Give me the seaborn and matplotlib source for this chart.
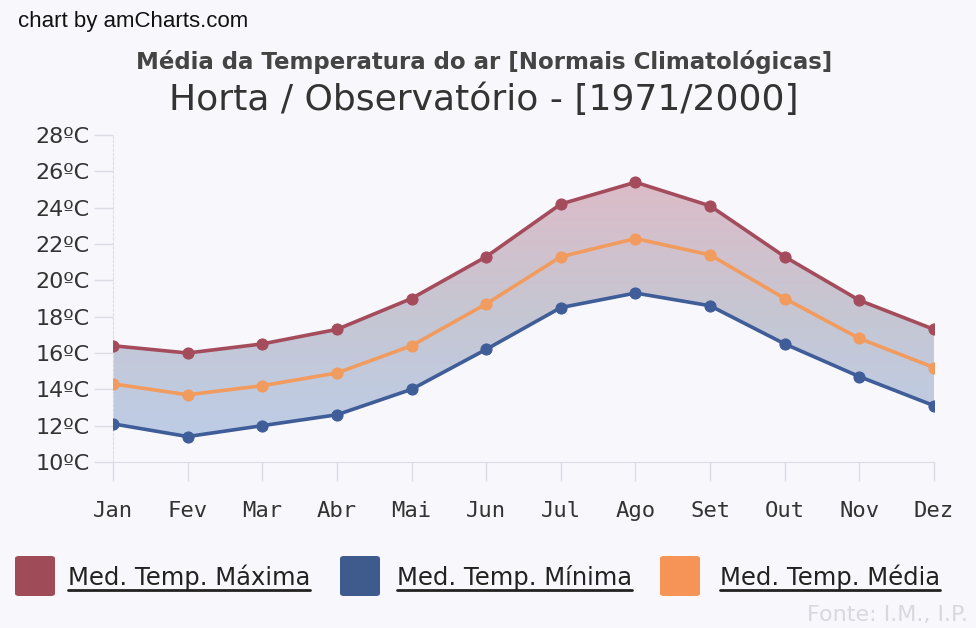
import numpy as np
import pandas as pd
import matplotlib
matplotlib.use("Agg")
import matplotlib.pyplot as plt
import seaborn as sns
from matplotlib.patches import FancyBboxPatch
from matplotlib.lines import Line2D
from matplotlib.colors import LinearSegmentedColormap

months = ["Jan", "Fev", "Mar", "Abr", "Mai", "Jun", "Jul", "Ago", "Set", "Out", "Nov", "Dez"]
temp_max = [16.4, 16.0, 16.5, 17.3, 19.0, 21.3, 24.2, 25.4, 24.1, 21.3, 18.9, 17.3]
temp_min = [12.1, 11.4, 12.0, 12.6, 14.0, 16.2, 18.5, 19.3, 18.6, 16.5, 14.7, 13.1]
temp_med = [14.3, 13.7, 14.2, 14.9, 16.4, 18.7, 21.3, 22.3, 21.4, 19.0, 16.8, 15.2]
series_names = ["Med. Temp. Máxima", "Med. Temp. Mínima", "Med. Temp. Média"]
y_ticks = [10, 12, 14, 16, 18, 20, 22, 24, 26, 28]

line_colors = {"Med. Temp. Máxima": "#a44c5c", "Med. Temp. Mínima": "#3f5d98", "Med. Temp. Média": "#f29b5e"}
legend_colors = ["#a04c58", "#3f5a8c", "#f69357"]

bg = "#f8f7fc"
sns.set_style("white")
plt.rcParams["font.family"] = ["DejaVu Sans"]

fig = plt.figure(figsize=(9.76, 6.28), dpi=100, facecolor=bg)
ax = fig.add_axes([113 / 976, 1 - 462 / 628, (934 - 113) / 976, (462 - 135) / 628])
ax.set_facecolor(bg)

x = np.arange(len(months))
df = pd.DataFrame({
    "idx": np.tile(x, 3),
    "value": temp_max + temp_min + temp_med,
    "series": np.repeat(series_names, len(months)),
})

# gradient fill between max and min
poly = ax.fill_between(x, temp_min, temp_max, facecolor="none", edgecolor="none")
path = poly.get_paths()[0]
cmap = LinearSegmentedColormap.from_list("g", ["#bdcde6", "#c6c6d2", "#dcbcc8"])
grad = np.linspace(0, 1, 256).reshape(-1, 1)
im = ax.imshow(grad, extent=[0, 11, min(temp_min), max(temp_max)], aspect="auto",
               origin="lower", cmap=cmap, zorder=1)
im.set_clip_path(path, ax.transData)

sns.lineplot(data=df, x="idx", y="value", hue="series", palette=line_colors,
             marker="o", markersize=8, linewidth=2.6, legend=False, sort=False,
             ax=ax, zorder=3)
for ln in ax.lines:
    c = ln.get_color()
    ln.set_markeredgecolor(c)
    ln.set_markerfacecolor(c)

ax.set_xlim(0, 11)
ax.set_ylim(10, 28)
ax.set_xticks(x)
ax.set_xticklabels(months, fontsize=16, color="#333333", family="DejaVu Sans Mono")
ax.set_yticks(y_ticks)
ax.set_yticklabels([f"{t}ºC" for t in y_ticks], fontsize=16, color="#333333")
ax.set_xlabel("")
ax.set_ylabel("")
ax.tick_params(axis="both", direction="out", length=14, width=1, color="#dcdce4",
               bottom=True, left=True)
ax.tick_params(axis="x", pad=14)
ax.tick_params(axis="y", pad=3)
for s in ["top", "right"]:
    ax.spines[s].set_visible(False)
ax.spines["left"].set_color("#dcdce4")
ax.spines["left"].set_linestyle((0, (2, 2)))
ax.spines["bottom"].set_color("#dcdce4")

fig.text(18 / 976, 1 - 22 / 628, "chart by amCharts.com", fontsize=16, color="#111111",
         family="Liberation Sans", va="center", ha="left")
fig.text(484 / 976, 1 - 62 / 628, "Média da Temperatura do ar [Normais Climatológicas]",
         fontsize=16.5, fontweight="bold", color="#444444", ha="center", va="center")
fig.text(484 / 976, 1 - 100 / 628, "Horta / Observatório - [1971/2000]",
         fontsize=26, color="#333333", ha="center", va="center")

# legend
sq_x = [15, 340, 660]
lab_x = [68, 397, 720]
for sx, lx, col, name in zip(sq_x, lab_x, legend_colors, series_names):
    p = FancyBboxPatch((sx / 976, 1 - 596 / 628), 40 / 976, 40 / 628,
                       boxstyle="round,pad=0,rounding_size=0.004", transform=fig.transFigure,
                       facecolor=col, edgecolor="none")
    fig.add_artist(p)
    fig.text(lx / 976, 1 - 577 / 628, name, fontsize=17.5, color="#222222",
             ha="left", va="center", family="DejaVu Sans")

fig.text(968 / 976, 1 - 615 / 628, "Fonte: I.M., I.P.", fontsize=16, color="#d8d8de",
         ha="right", va="center")

fig.canvas.draw()
r = fig.canvas.get_renderer()
for t in fig.texts:
    if t.get_text() in series_names:
        bb = t.get_window_extent(renderer=r)
        inv = fig.transFigure.inverted()
        (x0, y0), (x1, y1) = inv.transform([[bb.x0, bb.y0], [bb.x1, bb.y1]])
        fig.add_artist(Line2D([x0, x1], [y0 - 0.001, y0 - 0.001], color="#222222",
                              linewidth=2, transform=fig.transFigure))

fig.savefig("out.png", dpi=100, facecolor=bg)
